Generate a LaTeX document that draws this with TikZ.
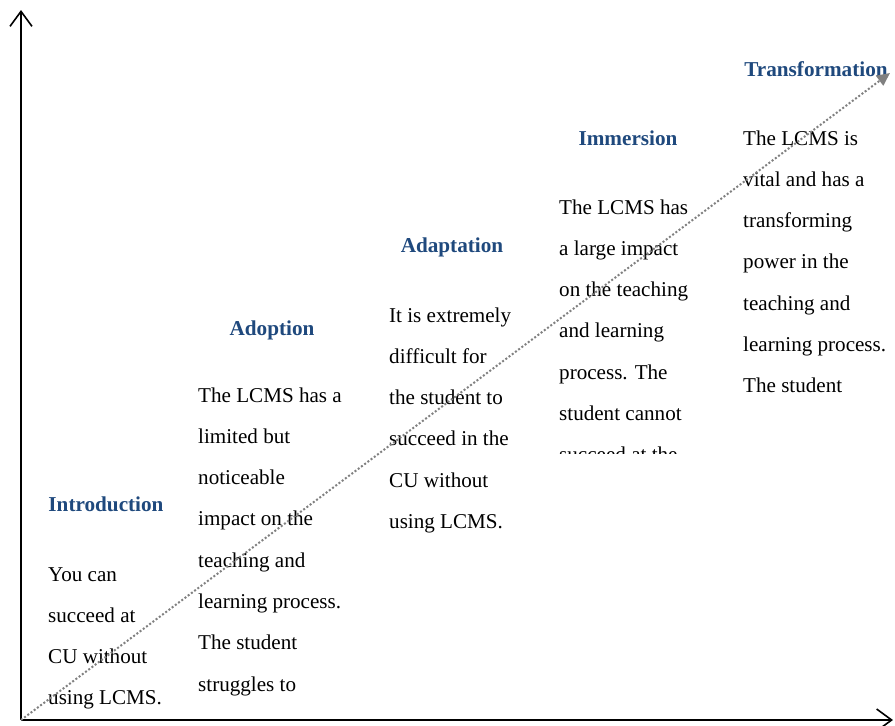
\documentclass[tikz,border=0pt]{standalone}
\usepackage{fontspec}
\setmainfont{Liberation Serif}
\definecolor{azulTitulo}{RGB}{31,73,125}
\definecolor{gris}{RGB}{128,128,128}
\usetikzlibrary{arrows.meta}
\tikzstyle{titulo}=[anchor=base, inner sep=0pt, text=azulTitulo,
                    font=\fontsize{21.2}{24}\selectfont\bfseries]
\tikzstyle{texto} =[anchor=base west, inner sep=0pt,
                    font=\fontsize{21.1}{24}\selectfont]
\tikzstyle{eje}   =[line width=1.6pt,
                    -{Straight Barb[length=15pt,width=22pt,line width=1.6pt]}]
\tikzstyle{avance}=[gris, dotted, line width=2pt,
                    -{Triangle[length=13pt,width=12pt]}]
\begin{document}
\begin{tikzpicture}[x=1pt,y=-1pt]
    \useasboundingbox (0,0) rectangle (895,726);

    \coordinate (o) at (21,720);
    \coordinate (arriba) at (21,10);
    \coordinate (derecha) at (893,720);
    \coordinate (meta) at (890,73);

    % titulos
    \draw (106,511) node (t1) [titulo] {Introduction};
    \draw (272,335) node (t2) [titulo] {Adoption};
    \draw (452,252) node (t3) [titulo] {Adaptation};
    \draw (628,145) node (t4) [titulo] {Immersion};
    \draw (816,76) node (t5) [titulo] {Transformation};

    % textos
    \begin{scope}
        \clip (30,540) rectangle (180,716);
        \foreach \t [count=\k] in {You can,succeed at,CU without,using LCMS.}
            \draw (48,{581+41.3*(\k-1)}) node (i\k) [texto] {\t};
    \end{scope}

    \foreach \t [count=\k] in {The LCMS has a,limited but,noticeable,impact on the,
    teaching and,learning process.,The student,struggles to}
        \draw (198,{402+41.3*(\k-1)}) node (a\k) [texto] {\t};

    \foreach \t [count=\k] in {It is extremely,difficult for,the student to,
    succeed in the,CU without,using LCMS.}
        \draw (389,{322+41.3*(\k-1)}) node (d\k) [texto] {\t};

    \begin{scope}
        \clip (540,180) rectangle (730,453);
        \foreach \t [count=\k] in {The LCMS has,a large impact,on the teaching,
        and learning,process. The,student cannot,succeed at the}
            \draw (559,{214+41.3*(\k-1)}) node (m\k) [texto] {\t};
    \end{scope}

    \foreach \t [count=\k] in {The LCMS is,vital and has a,transforming,
    power in the,teaching and,learning process.,The student}
        \draw (743,{145+41.3*(\k-1)}) node (f\k) [texto] {\t};

    % ejes y avance
    \draw [eje] (o) to (arriba);
    \draw [eje] (o) to (derecha);
    \draw [avance] (o) to (meta);

\end{tikzpicture}
\end{document}
